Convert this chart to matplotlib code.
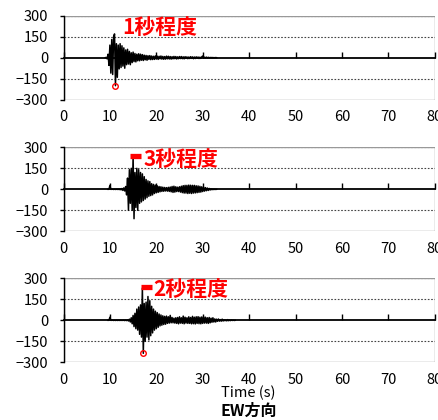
import numpy as np
import matplotlib
matplotlib.use("Agg")
import matplotlib.pyplot as plt
from matplotlib.patches import Rectangle

plt.rcParams['font.family'] = ['Noto Sans CJK JP', 'DejaVu Sans']

# EW方向の加速度波形 (0.2秒刻みで図から読み取り)
dt = 0.2
t0_1 = 9.0
wave_1 = [0, 2, -8, 25, -55, 90, -110, 130, -120, 150, 170, -200, 100, -140, 90, -80,
          100, -70, 85, -60, 70, -75, 55, -50, 60, -45, 45, -50, 35, -35, 40, -28,
          30, -30, 25, -22, 28, -22, 25, -18, 22, -20, 18, -15, 16, -18, 14, -12,
          15, -14, 12, -13, 10, -12, 13, -10, 11, -12, 10, -8, 12, -10, 9, -11,
          8, -10, 11, -8, 10, -9, 8, -10, 7, -8, 9, -7, 8, -9, 6, -7,
          8, -6, 8, -7, 6, -8, 7, -5, 6, -7, 5, -6, 7, -5, 6, -7,
          5, -6, 6, -4, 5, -6, 4, -5, 6, 12, -4, 4, -3, 4, -3, 3,
          -3, 2, -2, 2, -2, 1, -1, 1, 0]

t0_2 = 9.6
wave_2 = [0, 0, 28, 0, 0, 1, -1, 1, -1, 1, -1, 2, -2, 3, -4, 6,
          -8, 10, -12, 20, -40, 80, -150, 140, -100, 150, -150, 240, -210, 120, -130, 150,
          -150, 140, -100, 120, -90, 110, -80, 90, -70, 70, -60, 60, -50, 55, -45, 40,
          -40, 35, -30, 30, -25, 25, -22, 20, -18, 18, -15, 15, -14, 13, -12, 12,
          -13, 14, -15, 16, -18, 20, -22, 22, -20, 18, -16, 15, -16, 18, -20, 22,
          -24, 26, -27, 28, -27, 28, -30, 30, -28, 29, -30, 28, -27, 28, -26, 25,
          -24, 24, -22, 21, -20, 18, -16, 15, -13, 12, -10, 9, -8, 6, -5, 4,
          -3, 2, -2, 1, -1, 0]

t0_3 = 9.6
wave_3 = [0, 0, 22, 0, 0, 1, -1, 1, -1, 1, -1, 1, -1, 1, -1, 1,
          -1, 2, -2, 2, -2, 3, -5, 8, -12, 18, -25, 35, -45, 50, -60, 80,
          -70, 95, -100, 110, -120, 230, -236, 120, -150, 130, -120, 170, -140, 140, -110, 100,
          -90, 80, -70, 65, -60, 55, -50, 45, -40, 38, -35, 32, -30, 28, -28, 30,
          -22, 25, -20, 35, -18, 20, -18, 15, -20, 18, -22, 20, -25, 25, -20, 18,
          -22, 30, -25, 22, -20, 18, -22, 25, -22, 20, -25, 28, -24, 22, -26, 25,
          -22, 26, -24, 22, -25, 24, -22, 25, -20, 22, -20, 18, -22, 20, -18, 15,
          -14, 18, -12, 10, -12, 8, -7, 9, -6, 5, -6, 8, -5, 4, -3, 3,
          -4, 5, -3, 2, -2, 2, -1, 1, -1, 0]

labels = ["1秒程度", "3秒程度", "2秒程度"]
label_x = [12.6, 17.3, 19.3]
label_y = [217, 216, 218]
bar_x = [None, (14.3, 16.7), (16.6, 19.0)]
bar_y = 241
show_min = [True, False, True]

xticks = [0, 10, 20, 30, 40, 50, 60, 70, 80]
yticks = [-300, -150, 0, 150, 300]

fig = plt.figure(figsize=(4.38, 4.20), dpi=100)
tops = [15.7, 147.3, 278.3]
H = 420.0
W = 438.0

series = [(t0_1, wave_1), (t0_2, wave_2), (t0_3, wave_3)]
for i, (t0, w) in enumerate(series):
    top = tops[i]
    ax = fig.add_axes([63.5 / W, 1 - (top + 84) / H, (434.7 - 63.5) / W, 84 / H])
    w = np.array(w, dtype=float)
    t = t0 + dt * np.arange(len(w))
    ax.set_xlim(0, 80)
    ax.set_ylim(-300, 300)
    for g in [150, -150, 300]:
        ax.axhline(g, color="#444444", lw=0.8, ls=(0, (1.5, 1.5)), zorder=0)
    ax.add_patch(Rectangle((0, 0), 1, 1, transform=ax.transAxes, fill=False,
                           ec="#999999", lw=1.0, zorder=0))
    ax.plot(t, w, color="black", lw=1.1, zorder=3)
    if show_min[i]:
        k = np.argmin(w)
        ax.plot(t[k], w[k], "o", mfc="none", mec="red", ms=4, mew=1, zorder=4)
    if bar_x[i] is not None:
        ax.hlines(bar_y, bar_x[i][0], bar_x[i][1], color="red", lw=3.8, zorder=4)
    ax.text(label_x[i], label_y[i], labels[i], color="red", fontsize=15,
            fontweight="bold", ha="left", va="center", zorder=5)

    for s in ["top", "right"]:
        ax.spines[s].set_visible(False)
    ax.spines["left"].set_color("black")
    ax.spines["left"].set_linewidth(1.0)
    ax.spines["bottom"].set_position(("data", 0))
    ax.spines["bottom"].set_color("black")
    ax.spines["bottom"].set_linewidth(1.3)
    ax.set_xticks(xticks)
    ax.set_yticks(yticks)
    ax.tick_params(axis="x", direction="in", length=4, width=1, pad=38,
                   labelsize=10.5)
    ax.tick_params(axis="y", direction="out", length=3, width=1, pad=8,
                   labelsize=10.5)

fig.text(220.7 / W, 1 - 393 / H, "Time (s)", fontsize=10.5, ha="left", va="center")
fig.text(220.7 / W, 1 - 411 / H, "EW方向", fontsize=11.5, fontweight="bold",
         ha="left", va="center")

fig.savefig("out.png", dpi=100)
